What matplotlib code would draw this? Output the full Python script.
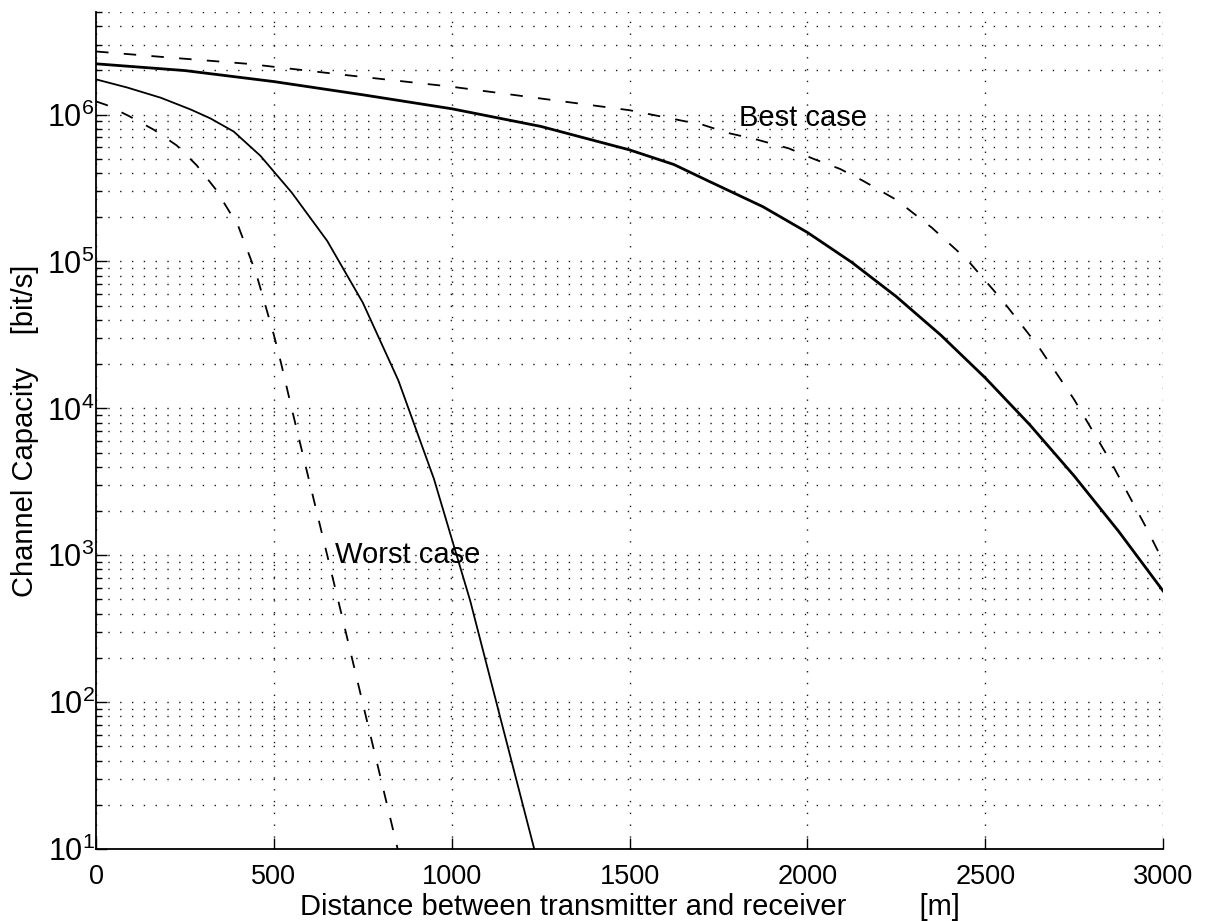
import numpy as np
import matplotlib
matplotlib.use("Agg")
import matplotlib.pyplot as plt
from matplotlib.ticker import LogLocator, FixedLocator, NullFormatter

plt.rcParams['font.family'] = ['Liberation Sans', 'DejaVu Sans']
plt.rcParams['mathtext.default'] = 'regular'
plt.rcParams['lines.scale_dashes'] = False

# distance [m] and log10 of channel capacity [bit/s]
best_dash_x = [0, 200, 427, 700, 1000, 1250, 1500, 1707, 1777, 1858, 1948, 2016, 2092,
               2156, 2250, 2350, 2450, 2550, 2650, 2750, 2850, 2950, 3000]
best_dash_log = [6.43, 6.39, 6.346, 6.27, 6.19, 6.11, 6.03, 5.93, 5.875, 5.83, 5.77, 5.70,
                 5.63, 5.55, 5.42, 5.23, 5.01, 4.73, 4.42, 4.06, 3.65, 3.20, 2.96]

best_solid_x = [0, 250, 500, 750, 1000, 1250, 1500, 1625, 1720, 1875, 2000, 2125, 2250,
                2375, 2500, 2625, 2750, 2875, 3000]
best_solid_log = [6.346, 6.30, 6.225, 6.135, 6.04, 5.92, 5.76, 5.66, 5.55, 5.373, 5.198,
                  4.994, 4.761, 4.499, 4.208, 3.889, 3.54, 3.163, 2.757]

worst_solid_x = [0, 87, 182, 266, 321, 387, 462, 550, 650, 750, 850, 950, 1052, 1136, 1232]
worst_solid_log = [6.24, 6.185, 6.115, 6.035, 5.975, 5.885, 5.72, 5.47, 5.14, 4.72, 4.19,
                   3.52, 2.69, 1.90, 1.0]

worst_dash_x = [0, 30, 93, 164, 227, 283, 337, 400, 450, 500, 520, 550, 600, 650, 691,
                757, 848]
worst_dash_log = [6.09, 6.065, 5.99, 5.895, 5.79, 5.655, 5.49, 5.24, 4.92, 4.50, 4.31, 4.0,
                  3.5, 3.0, 2.59, 1.92, 1.0]

xticks = [0, 500, 1000, 1500, 2000, 2500, 3000]


def main():
    fig = plt.figure(figsize=(12.05, 9.21), dpi=100)
    ax = fig.add_axes([0.0797, 0.0782, 0.8855, 0.9088])

    dash_kw = dict(color='black', lw=1.3, dashes=(9, 11))
    ax.plot(best_dash_x, 10 ** np.array(best_dash_log), **dash_kw)
    ax.plot(best_solid_x, 10 ** np.array(best_solid_log), color='black', lw=2.0)
    ax.plot(worst_solid_x, 10 ** np.array(worst_solid_log), color='black', lw=1.3)
    ax.plot(worst_dash_x, 10 ** np.array(worst_dash_log), **dash_kw)

    ax.set_yscale('log')
    ax.set_xlim(0, 3000)
    ax.set_ylim(10, 5e6)
    ax.xaxis.set_major_locator(FixedLocator(xticks))
    ax.yaxis.set_major_locator(LogLocator(base=10, numticks=10))
    ax.yaxis.set_minor_locator(LogLocator(base=10, subs=np.arange(2, 10), numticks=20))
    ax.yaxis.set_minor_formatter(NullFormatter())

    # matlab style dotted grid
    grid_kw = dict(color='0.1', lw=1.0, dashes=(1, 7.5))
    ax.grid(True, which='major', axis='x', **grid_kw)
    ax.grid(True, which='both', axis='y', **grid_kw)

    for side in ['top', 'right']:
        ax.spines[side].set_visible(False)
    ax.spines['left'].set_linewidth(1.3)
    ax.spines['bottom'].set_linewidth(1.3)

    ax.tick_params(which='major', direction='in', length=8, width=1.0)
    ax.tick_params(which='minor', direction='in', length=4, width=1.0)
    ax.tick_params(axis='x', labelsize=19.5, pad=11)
    ax.tick_params(axis='y', labelsize=22, pad=1)

    ax.set_xlabel('Distance between transmitter and receiver         [m]', fontsize=21)
    ax.set_ylabel('Channel Capacity    [bit/s]', fontsize=21)
    ax.xaxis.set_label_coords(0.5, -0.053)
    ax.yaxis.set_label_coords(-0.0534, 0.5)

    ax.text(1808, 10 ** 5.98, 'Best case', fontsize=21, va='center', ha='left')
    ax.text(672, 1.0e3, 'Worst case', fontsize=21, va='center', ha='left')

    fig.savefig('out.png', dpi=100)


if __name__ == "__main__":
    main()
